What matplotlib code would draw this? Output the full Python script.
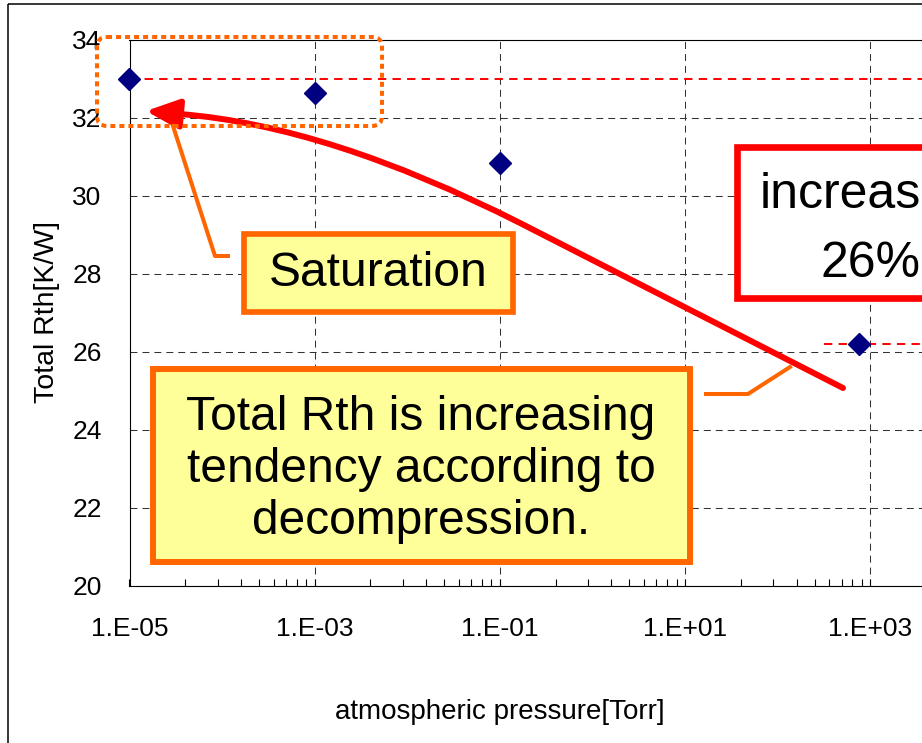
import numpy as np
import matplotlib
matplotlib.use("Agg")
from matplotlib import pyplot as plt
from matplotlib.patches import Rectangle, FancyBboxPatch, FancyArrowPatch
from matplotlib.lines import Line2D
from matplotlib.path import Path
from matplotlib.transforms import Affine2D
from matplotlib.ticker import FixedLocator, FuncFormatter

# thermal resistance vs. chamber pressure
pressure = [1e-5, 1e-3, 1e-1, 760]     # Torr
total_rth = [33.0, 32.63, 30.85, 26.2]  # K/W

y_ticks = [20, 22, 24, 26, 28, 30, 32, 34]
x_ticks = [1e-5, 1e-3, 1e-1, 1e1, 1e3, 1e5]
x_label = "atmospheric pressure[Torr]"
y_label = "Total Rth[K/W]"
note_saturation = "Saturation"
note_trend = "Total Rth is increasing\ntendency according to\ndecompression."
note_increase = "increase"
note_percent = "26%"

ORANGE = "#FF6600"
YELLOW = "#FFFF99"
RED = "#FF0000"
NAVY = "#000080"

plt.rcParams["font.family"] = ["Liberation Sans", "DejaVu Sans"]
plt.rcParams["lines.scale_dashes"] = False

W, H = 922, 743
fig = plt.figure(figsize=(W / 100, H / 100), dpi=100)

# pixel helper for the callouts (origin top-left, y down)
PX = Affine2D().scale(1 / W, -1 / H).translate(0, 1) + fig.transFigure

x0_px, x_dec = 129.5, 92.6
ax = fig.add_axes([x0_px / W, 1 - 586 / H, 10 * x_dec / W, (586 - 40) / H])
ax.set_xscale("log")
ax.set_xlim(1e-5, 1e5)
ax.set_ylim(20, 34)
ax.set_yticks(y_ticks)

# base-100 style log axis: majors every two decades, minors at k^2
ax.xaxis.set_major_locator(FixedLocator(x_ticks))
minors = [t * k ** 2 for t in x_ticks[:-1] for k in range(2, 10)]
ax.xaxis.set_minor_locator(FixedLocator(minors))
ax.xaxis.set_minor_formatter(FuncFormatter(lambda v, p: ""))
ax.xaxis.set_major_formatter(
    FuncFormatter(lambda v, p: "1.E{:+03d}".format(int(round(np.log10(v))))))

ax.tick_params(axis="x", which="both", direction="in", length=5, width=0.8,
               top=False, labelsize=19, pad=22)
ax.tick_params(axis="y", length=0, pad=20, labelsize=19)
for s in ax.spines.values():
    s.set_linewidth(0.8)
    s.set_color("black")

ax.grid(True, which="major", color="#333333", lw=0.75, linestyle=(0, (5, 3.6)))
ax.set_axisbelow(True)

# reference levels: saturated value and atmospheric value
ax.axhline(total_rth[0], color=RED, lw=1.4, linestyle=(0, (6, 4.5)), zorder=1.5)
ax.hlines(total_rth[-1], 10 ** 2.5, 1e5, color=RED, lw=1.4,
          linestyle=(0, (6, 4.5)), zorder=1.5)

ax.plot(pressure, total_rth, linestyle="none", marker="D", ms=11,
        color=NAVY, zorder=3, clip_on=False)

ax.set_xlabel(x_label, fontsize=20)
ax.set_ylabel(y_label, fontsize=20.5)
ax.xaxis.set_label_coords((500 - x0_px) / (10 * x_dec), (586 - 712) / 546)
ax.yaxis.set_label_coords((47 - x0_px) / (10 * x_dec), (586 - 312) / 546)
ax.xaxis.label.set(ha="center", va="center")
ax.yaxis.label.set(ha="center", va="center", rotation_mode="anchor")

# outer chart frame
fig.add_artist(Rectangle((8, 4), 2000, 2000, fill=False, ec="black", lw=1.1,
                         transform=PX, zorder=0.5))

# curved trend arrow
verts = [(843, 388), (520, 223), (329, 126), (180, 114), (146, 111)]
codes = [Path.MOVETO, Path.LINETO, Path.CURVE3, Path.CURVE3, Path.LINETO]
fig.add_artist(FancyArrowPatch(path=Path(verts, codes),
                               arrowstyle="-|>,head_length=20,head_width=9",
                               mutation_scale=1, color=RED, lw=4.3,
                               transform=PX, zorder=2))

# dotted frame round the saturated points
fig.add_artist(FancyBboxPatch((97, 37), 285, 89,
                              boxstyle="round,pad=0,rounding_size=10",
                              fill=False, ec=ORANGE, lw=2.9,
                              linestyle=(0, (3.6, 2.9)), capstyle="butt",
                              transform=PX, zorder=2.1))

# callout leaders
fig.add_artist(Line2D([173, 215, 228], [126, 256, 256], color=ORANGE, lw=2.9,
                      transform=PX, zorder=2.2))
fig.add_artist(Line2D([706, 748, 790], [394, 394, 367], color=ORANGE, lw=2.9,
                      transform=PX, zorder=2.2))

# Saturation box
fig.add_artist(Rectangle((244, 234), 269, 78, fc=YELLOW, ec=ORANGE, lw=4.1,
                         transform=PX, zorder=3))
fig.add_artist(plt.Text(378, 273, note_saturation, fontsize=34.5, ha="center",
                        va="center", transform=PX, zorder=4))

# trend box
fig.add_artist(Rectangle((153, 369), 537, 193, fc=YELLOW, ec=ORANGE, lw=4.3,
                         transform=PX, zorder=3))
fig.add_artist(plt.Text(421, 470, note_trend, fontsize=34.5, ha="center",
                        va="center", multialignment="center", linespacing=1.2,
                        transform=PX, zorder=4))

# increase box (runs on past the right edge)
fig.add_artist(Rectangle((736.5, 146.5), 400, 151, fc="white", ec=RED, lw=4.8,
                         transform=PX, zorder=3))
fig.add_artist(plt.Text(760, 208, note_increase, fontsize=36, ha="left",
                        va="baseline", transform=PX, zorder=4))
fig.add_artist(plt.Text(820, 277, note_percent, fontsize=36, ha="left",
                        va="baseline", transform=PX, zorder=4))

fig.savefig("out.png", dpi=100)
